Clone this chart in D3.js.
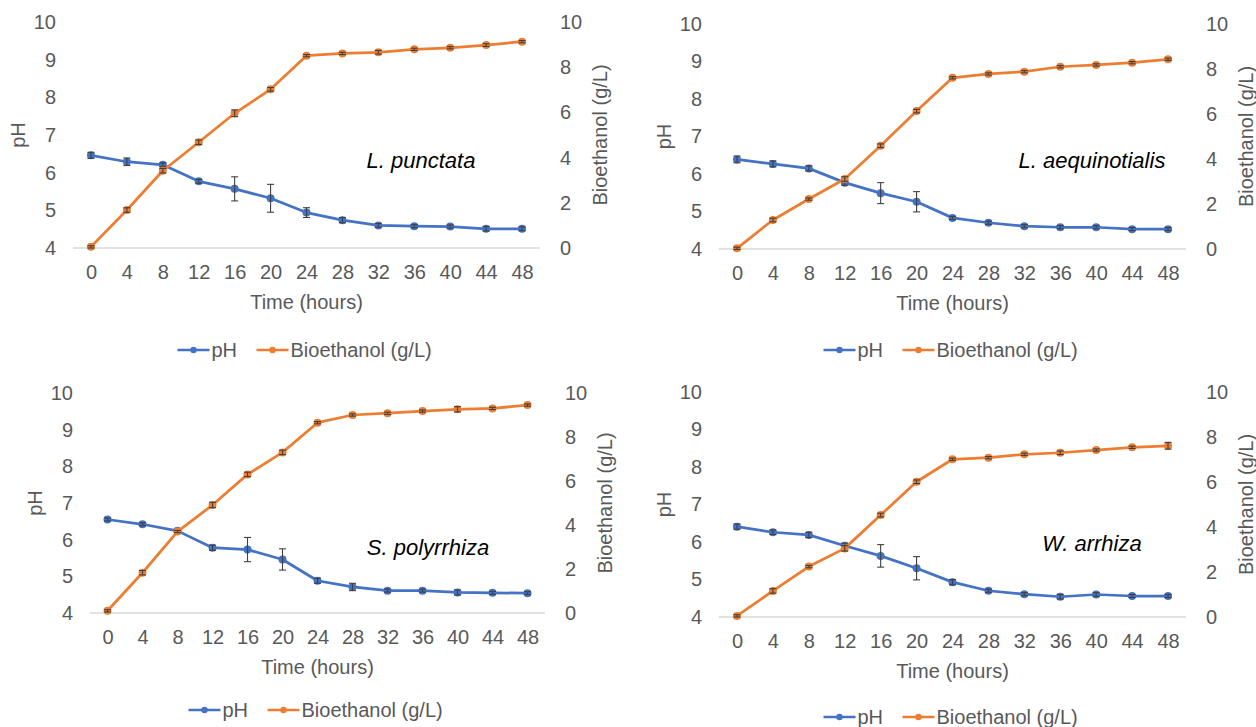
<!DOCTYPE html>
<html>
<head>
<meta charset="utf-8">
<script src="https://cdn.jsdelivr.net/npm/d3@7"></script>
<style>
  html, body { margin: 0; padding: 0; background: #fff; }
  svg { display: block; font-family: "Liberation Sans", Arial, sans-serif; }
</style>
</head>
<body>
<svg id="chart" width="1256" height="727"></svg>
<script>
// ── Datos ──────────────────────────────────────────────
const HOURS = ["0", "4", "8", "12", "16", "20", "24", "28", "32", "36", "40", "44", "48"];
const PH_TICKS = [4, 5, 6, 7, 8, 9, 10];
const ETOH_TICKS = [0, 2, 4, 6, 8, 10];

const PH_PUNCTATA = [6.46, 6.29, 6.21, 5.77, 5.57, 5.32, 4.94, 4.74, 4.6, 4.58, 4.57, 4.51, 4.51];
const PH_ERR_PUNCTATA = [0.08, 0.1, 0.05, 0.05, 0.32, 0.37, 0.13, 0.07, 0.05, 0.04, 0.04, 0.06, 0.05];
const ETOH_PUNCTATA = [0.05, 1.68, 3.42, 4.68, 5.96, 7.02, 8.51, 8.61, 8.66, 8.79, 8.86, 8.98, 9.13];
const ETOH_ERR_PUNCTATA = [0.05, 0.1, 0.1, 0.1, 0.15, 0.08, 0.05, 0.05, 0.08, 0.05, 0.05, 0.06, 0.05];

const PH_AEQUINOCTIALIS = [6.39, 6.27, 6.15, 5.77, 5.49, 5.26, 4.83, 4.7, 4.61, 4.58, 4.58, 4.53, 4.53];
const PH_ERR_AEQUINOCTIALIS = [0.09, 0.08, 0.07, 0.07, 0.28, 0.27, 0.04, 0.04, 0.04, 0.04, 0.04, 0.04, 0.04];
const ETOH_AEQUINOCTIALIS = [0.03, 1.29, 2.22, 3.11, 4.59, 6.13, 7.61, 7.78, 7.88, 8.1, 8.18, 8.28, 8.43];
const ETOH_ERR_AEQUINOCTIALIS = [0.05, 0.08, 0.05, 0.1, 0.08, 0.08, 0.05, 0.05, 0.05, 0.05, 0.05, 0.05, 0.05];

const PH_POLYRRHIZA = [6.55, 6.42, 6.24, 5.78, 5.73, 5.46, 4.88, 4.71, 4.61, 4.61, 4.56, 4.55, 4.54];
const PH_ERR_POLYRRHIZA = [0.04, 0.04, 0.04, 0.07, 0.33, 0.29, 0.07, 0.1, 0.04, 0.04, 0.07, 0.04, 0.04];
const ETOH_POLYRRHIZA = [0.1, 1.83, 3.7, 4.91, 6.3, 7.3, 8.65, 9.0, 9.08, 9.18, 9.26, 9.3, 9.45];
const ETOH_ERR_POLYRRHIZA = [0.05, 0.1, 0.05, 0.12, 0.1, 0.1, 0.05, 0.05, 0.05, 0.05, 0.12, 0.05, 0.05];

const PH_ARRHIZA = [6.41, 6.26, 6.19, 5.9, 5.63, 5.3, 4.93, 4.7, 4.61, 4.54, 4.6, 4.56, 4.56];
const PH_ERR_ARRHIZA = [0.07, 0.06, 0.07, 0.07, 0.3, 0.31, 0.07, 0.04, 0.04, 0.06, 0.05, 0.04, 0.04];
const ETOH_ARRHIZA = [0.05, 1.16, 2.24, 3.05, 4.53, 6.01, 7.01, 7.08, 7.23, 7.3, 7.42, 7.54, 7.61];
const ETOH_ERR_ARRHIZA = [0.05, 0.1, 0.05, 0.12, 0.08, 0.08, 0.05, 0.05, 0.05, 0.08, 0.05, 0.05, 0.15];

const SPECIES = ["L. punctata", "L. aequinotialis", "S. polyrrhiza", "W. arrhiza"];
const SERIES_NAMES = ["pH", "Bioethanol (g/L)"];

// ── Estilo ─────────────────────────────────────────────
const BLUE = "#4472C4";
const ORANGE = "#ED7D31";
const TEXT = "#595959";
const FS = 20;

// Posición de cada panel (área de trazado)
const PANELS = [
  { left: 73, right: 540, top: 22, bottom: 248, labelX: 421, labelY: 160, legendY: 350,
    ph: PH_PUNCTATA, phErr: PH_ERR_PUNCTATA, etoh: ETOH_PUNCTATA, etohErr: ETOH_ERR_PUNCTATA },
  { left: 719, right: 1186, top: 24, bottom: 249, labelX: 1092, labelY: 160, legendY: 350,
    ph: PH_AEQUINOCTIALIS, phErr: PH_ERR_AEQUINOCTIALIS, etoh: ETOH_AEQUINOCTIALIS, etohErr: ETOH_ERR_AEQUINOCTIALIS },
  { left: 90, right: 545, top: 393, bottom: 613, labelX: 428, labelY: 547, legendY: 710,
    ph: PH_POLYRRHIZA, phErr: PH_ERR_POLYRRHIZA, etoh: ETOH_POLYRRHIZA, etohErr: ETOH_ERR_POLYRRHIZA },
  { left: 719, right: 1186, top: 392, bottom: 617, labelX: 1092, labelY: 543, legendY: 717,
    ph: PH_ARRHIZA, phErr: PH_ERR_ARRHIZA, etoh: ETOH_ARRHIZA, etohErr: ETOH_ERR_ARRHIZA },
];

const svg = d3.select("#chart");

function drawSeries(g, x, y, values, errs, color) {
  const idx = d3.range(values.length);
  const line = d3.line().x((i) => x(HOURS[i])).y((i) => y(values[i]));

  g.append("path")
    .attr("d", line(idx))
    .attr("fill", "none")
    .attr("stroke", color)
    .attr("stroke-width", 2.75)
    .attr("stroke-linejoin", "round");

  g.append("g").selectAll("circle").data(idx).join("circle")
    .attr("cx", (i) => x(HOURS[i]))
    .attr("cy", (i) => y(values[i]))
    .attr("r", 4)
    .attr("fill", color);

  // barras de error
  const eb = g.append("g").attr("stroke", "#404040").attr("stroke-width", 1.1);
  idx.forEach((i) => {
    const cx = x(HOURS[i]);
    const y1 = y(values[i] - errs[i]);
    const y2 = y(values[i] + errs[i]);
    eb.append("line").attr("x1", cx).attr("x2", cx).attr("y1", y1).attr("y2", y2);
    eb.append("line").attr("x1", cx - 3.5).attr("x2", cx + 3.5).attr("y1", y1).attr("y2", y1);
    eb.append("line").attr("x1", cx - 3.5).attr("x2", cx + 3.5).attr("y1", y2).attr("y2", y2);
  });
}

PANELS.forEach((p, k) => {
  const g = svg.append("g");
  const x = d3.scalePoint().domain(HOURS).range([p.left, p.right]).padding(0.5);
  const yPh = d3.scaleLinear().domain([4, 10]).range([p.bottom, p.top]);
  const yEt = d3.scaleLinear().domain([0, 10]).range([p.bottom, p.top]);

  // línea base
  g.append("line")
    .attr("x1", p.left).attr("x2", p.right)
    .attr("y1", p.bottom).attr("y2", p.bottom)
    .attr("stroke", "#D9D9D9").attr("stroke-width", 1.5);

  // eje izquierdo (pH)
  const gl = g.append("g").attr("transform", `translate(${p.left},0)`)
    .call(d3.axisLeft(yPh).tickValues(PH_TICKS).tickFormat(d3.format("d")).tickSize(0).tickPadding(17));
  // eje derecho (bioetanol)
  const gr = g.append("g").attr("transform", `translate(${p.right},0)`)
    .call(d3.axisRight(yEt).tickValues(ETOH_TICKS).tickFormat(d3.format("d")).tickSize(0).tickPadding(20));
  // eje x
  const gx = g.append("g").attr("transform", `translate(0,${p.bottom})`)
    .call(d3.axisBottom(x).tickSize(0).tickPadding(17));

  [gl, gr, gx].forEach((ax) => {
    ax.select(".domain").remove();
    ax.selectAll("text").attr("fill", TEXT).attr("font-size", FS).attr("font-family", "Liberation Sans, Arial, sans-serif");
  });

  const midY = (p.top + p.bottom) / 2;
  const midX = (p.left + p.right) / 2;

  g.append("text")
    .attr("transform", `translate(${p.left - 55},${midY}) rotate(-90)`)
    .attr("text-anchor", "middle").attr("dy", "0.35em")
    .attr("fill", TEXT).attr("font-size", FS).text("pH");

  g.append("text")
    .attr("transform", `translate(${p.right + 60},${midY}) rotate(-90)`)
    .attr("text-anchor", "middle").attr("dy", "0.35em")
    .attr("fill", TEXT).attr("font-size", FS).text("Bioethanol (g/L)");

  g.append("text")
    .attr("x", midX).attr("y", p.bottom + 54).attr("dy", "0.35em")
    .attr("text-anchor", "middle").attr("fill", TEXT).attr("font-size", FS)
    .text("Time (hours)");

  // series
  drawSeries(g, x, yPh, p.ph, p.phErr, BLUE);
  drawSeries(g, x, yEt, p.etoh, p.etohErr, ORANGE);

  // nombre de la especie
  g.append("text")
    .attr("x", p.labelX).attr("y", p.labelY).attr("dy", "0.35em")
    .attr("text-anchor", "middle").attr("font-style", "italic")
    .attr("font-size", 22).attr("fill", "#000")
    .text(SPECIES[k]);

  // leyenda
  const lg = g.append("g").attr("transform", `translate(${midX - 129},${p.legendY})`);
  const items = [{ name: SERIES_NAMES[0], color: BLUE, dx: 0 }, { name: SERIES_NAMES[1], color: ORANGE, dx: 79 }];
  items.forEach((it) => {
    lg.append("line").attr("x1", it.dx).attr("x2", it.dx + 32).attr("y1", 0).attr("y2", 0)
      .attr("stroke", it.color).attr("stroke-width", 2.5);
    lg.append("circle").attr("cx", it.dx + 16).attr("cy", 0).attr("r", 3.2).attr("fill", it.color);
    lg.append("text").attr("x", it.dx + 34).attr("y", 0).attr("dy", "0.35em")
      .attr("fill", TEXT).attr("font-size", FS).text(it.name);
  });
});
</script>
</body>
</html>
